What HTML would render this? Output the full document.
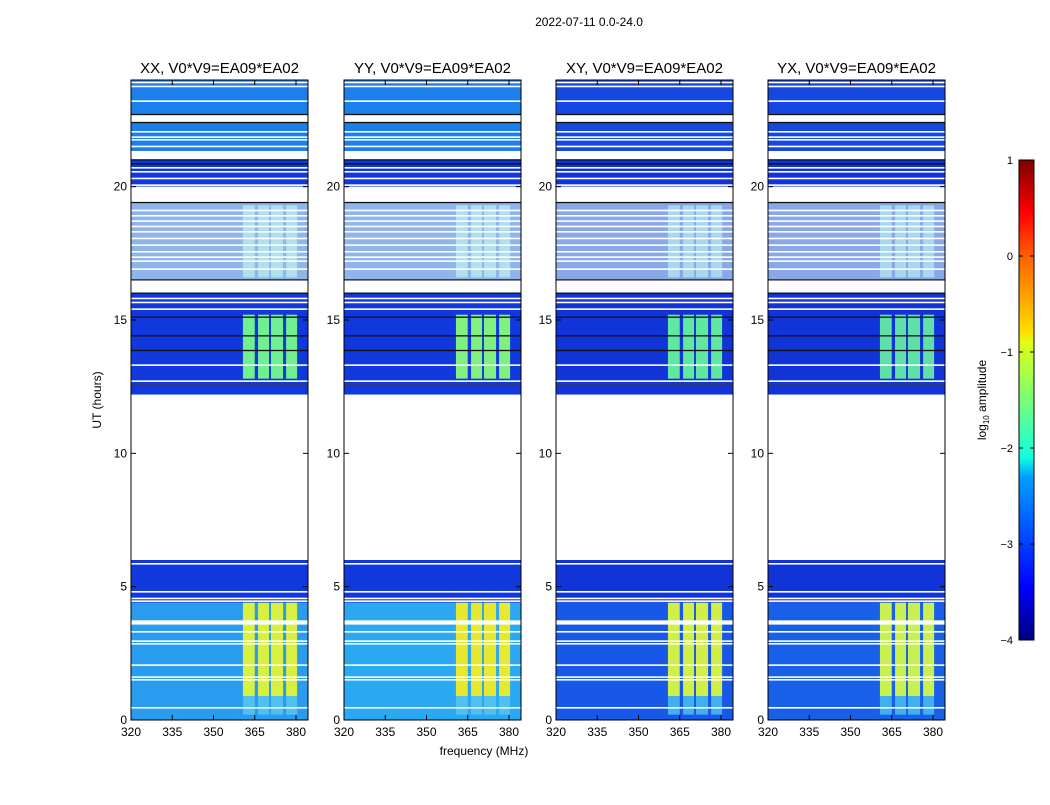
<!DOCTYPE html>
<html><head><meta charset="utf-8"><style>
body{margin:0;background:#fff;width:1050px;height:800px;overflow:hidden}
svg text{font-family:"Liberation Sans",sans-serif;}
</style></head><body>
<svg id="fig" width="1050" height="800" xmlns="http://www.w3.org/2000/svg">
<defs>
<linearGradient id="jet" x1="0" y1="1" x2="0" y2="0">
<stop offset="0" stop-color="#00007f"/><stop offset="0.11" stop-color="#0000ff"/>
<stop offset="0.34" stop-color="#00a0ff"/><stop offset="0.38" stop-color="#10ffe0"/>
<stop offset="0.62" stop-color="#e0ff10"/><stop offset="0.64" stop-color="#ffe000"/>
<stop offset="0.80" stop-color="#ff6000"/><stop offset="0.89" stop-color="#ff0000"/>
<stop offset="1" stop-color="#7f0000"/>
</linearGradient>
</defs>
<text x="589" y="26" font-size="12" text-anchor="middle">2022-07-11 0.0-24.0</text>
<g id="panels"></g>
<text x="484" y="755" font-size="12" text-anchor="middle">frequency (MHz)</text>
<text x="101" y="400" font-size="12" text-anchor="middle" transform="rotate(-90 101 400)">UT (hours)</text>
<g id="cbar"></g>
</svg>
<script>
const panelTitles=["XX, V0*V9=EA09*EA02","YY, V0*V9=EA09*EA02","XY, V0*V9=EA09*EA02","YX, V0*V9=EA09*EA02"];
const panelLeft=[131,344,556,768];
const xTicks=[320,335,350,365,380];
const yTicks=[0,5,10,15,20];
const cbarTicks=[1,0,-1,-2,-3,-4];
const segStart=[0,4.4,12.2,16.5,20.0,21.3,22.7];
const segEnd=[4.4,6.0,16.0,19.4,21.0,22.4,24.0];
const segKind=["light","dark","dark","stripe","dark","light","light"];
const lightCol=["#2a9cf0","#2aa8f2","#1858e8","#1860e8"];
const darkCol=["#1038dc","#1038dc","#1034d8","#1034d8"];
const stripeCol=["#90b4ec","#90b4ec","#8aa8e8","#8aa8e8"];
const bandLo=[360.7,366.2,370.9,376.4];
const bandHi=[365.0,370.2,375.3,380.4];
const rfiStart=[0.9,12.8,0.2,16.6];
const rfiEnd=[4.4,15.2,0.9,19.3];
const rfiCol=[["#d8f040","#e8e830","#d0f048","#c8f050"],["#70f090","#80f080","#60e8a0","#60e0a8"],["#50c0f0","#50c0f0","#40b0f0","#40b0f0"],["#b0e0f0","#b0e0f0","#a8d8f0","#a8d8f0"]];
const whiteLines=[0.45,1.5,1.6,2.05,2.85,2.95,3.3,3.6,3.65,3.7,4.45,4.55,4.8,5.85,12.6,12.7,13.3,15.4,15.65,15.8,16.5,16.9,17.2,17.35,17.55,17.8,18.05,18.3,18.5,18.7,18.9,19.1,20.05,20.3,20.55,20.7,21.3,21.5,21.75,21.85,22.05,23.2,23.75,23.9];
const blackLines=[12.6,13.85,14.4,15.1,16.0,16.5,19.4,20.85,21.0,22.4,22.7];
const blankStart=[6.0,16.0,19.4,21.0,22.4];
const blankEnd=[12.2,16.5,20.0,21.3,22.7];

const PW=177, Y0=720, Y24=80;
const yS=h=>Y0-(h/24)*(Y0-Y24);
const xS=(f,L)=>L+(f-320)*2.75;
const NS="http://www.w3.org/2000/svg";
function mk(t,a,p){const e=document.createElementNS(NS,t);for(const k in a)e.setAttribute(k,a[k]);p.appendChild(e);return e;}
const root=document.getElementById('panels');
panelLeft.forEach((L,pi)=>{
  const g=mk('g',{},root);
  
  
  mk('defs',{},g).innerHTML='<clipPath id="c'+pi+'"><rect x="'+L+'" y="80" width="'+PW+'" height="640"/></clipPath>';
  const d=mk('g',{'clip-path':'url(#c'+pi+')'},g);
  segStart.forEach((s,i)=>{
    const k=segKind[i];
    const col=k=="light"?(i<1?lightCol[pi]:(pi<2?"#1c80ec":"#1448e0")):k=="dark"?darkCol[pi]:stripeCol[pi];
    const r=mk('rect',{x:L,y:yS(segEnd[i]),width:PW,height:yS(s)-yS(segEnd[i]),fill:col},d);
    
    
  });
  rfiStart.forEach((s,j)=>{
    bandLo.forEach((b,bi)=>{
      const r=mk('rect',{x:xS(b,L),y:yS(rfiEnd[j]),width:xS(bandHi[bi],L)-xS(b,L),height:yS(s)-yS(rfiEnd[j]),fill:rfiCol[j][pi]},d);
      
      
    });
  });
  blankStart.forEach((s,i)=>{mk('rect',{x:L,y:yS(blankEnd[i]),width:PW,height:yS(s)-yS(blankEnd[i]),fill:'#fff'},d);});
  whiteLines.forEach(h=>{mk('rect',{x:L,y:yS(h)-1,width:PW,height:1.6,fill:'#fff'},d);});
  blackLines.forEach(h=>{mk('rect',{x:L,y:yS(h)-0.8,width:PW,height:1.3,fill:'#111'},d);});
  const fr=mk('rect',{x:L,y:80,width:PW,height:640,fill:'none',stroke:'#000','stroke-width':1},g);
  
  
  const t=mk('text',{x:L+PW/2,y:73,'font-size':15,'text-anchor':'middle'},g);t.textContent=panelTitles[pi];
  
  
  xTicks.forEach(v=>{const x=xS(v,L);
    mk('line',{x1:x,x2:x,y1:720,y2:715,stroke:'#000'},g);mk('line',{x1:x,x2:x,y1:80,y2:85,stroke:'#000'},g);
    const tx=mk('text',{x:x,y:736,'font-size':12,'text-anchor':'middle'},g);tx.textContent=v;
    
    });
  yTicks.forEach(v=>{const y=yS(v);
    mk('line',{x1:L,x2:L+5,y1:y,y2:y,stroke:'#000'},g);mk('line',{x1:L+PW,x2:L+PW-5,y1:y,y2:y,stroke:'#000'},g);
    const ty=mk('text',{x:L-4,y:y+4,'font-size':12,'text-anchor':'end'},g);ty.textContent=v;
    
    });
});
const cb=document.getElementById('cbar');
mk('rect',{x:1019,y:160,width:15,height:480,fill:'url(#jet)',stroke:'#000','stroke-width':1},cb);
cbarTicks.forEach(v=>{const y=160+(1-v)*96;
  mk('line',{x1:1019,x2:1023,y1:y,y2:y,stroke:'#000'},cb);mk('line',{x1:1034,x2:1030,y1:y,y2:y,stroke:'#000'},cb);
  const t=mk('text',{x:1013,y:y+4,'font-size':11,'text-anchor':'end'},cb);t.textContent=v<0?'\u2212'+(-v):v;
  
  });
const cl=mk('text',{x:986,y:400,'font-size':12,'text-anchor':'middle',transform:'rotate(-90 986 400)'},cb);
cl.innerHTML='log<tspan font-size="8" dy="3">10</tspan><tspan dy="-3"> amplitude</tspan>';


</script>
</body></html>
